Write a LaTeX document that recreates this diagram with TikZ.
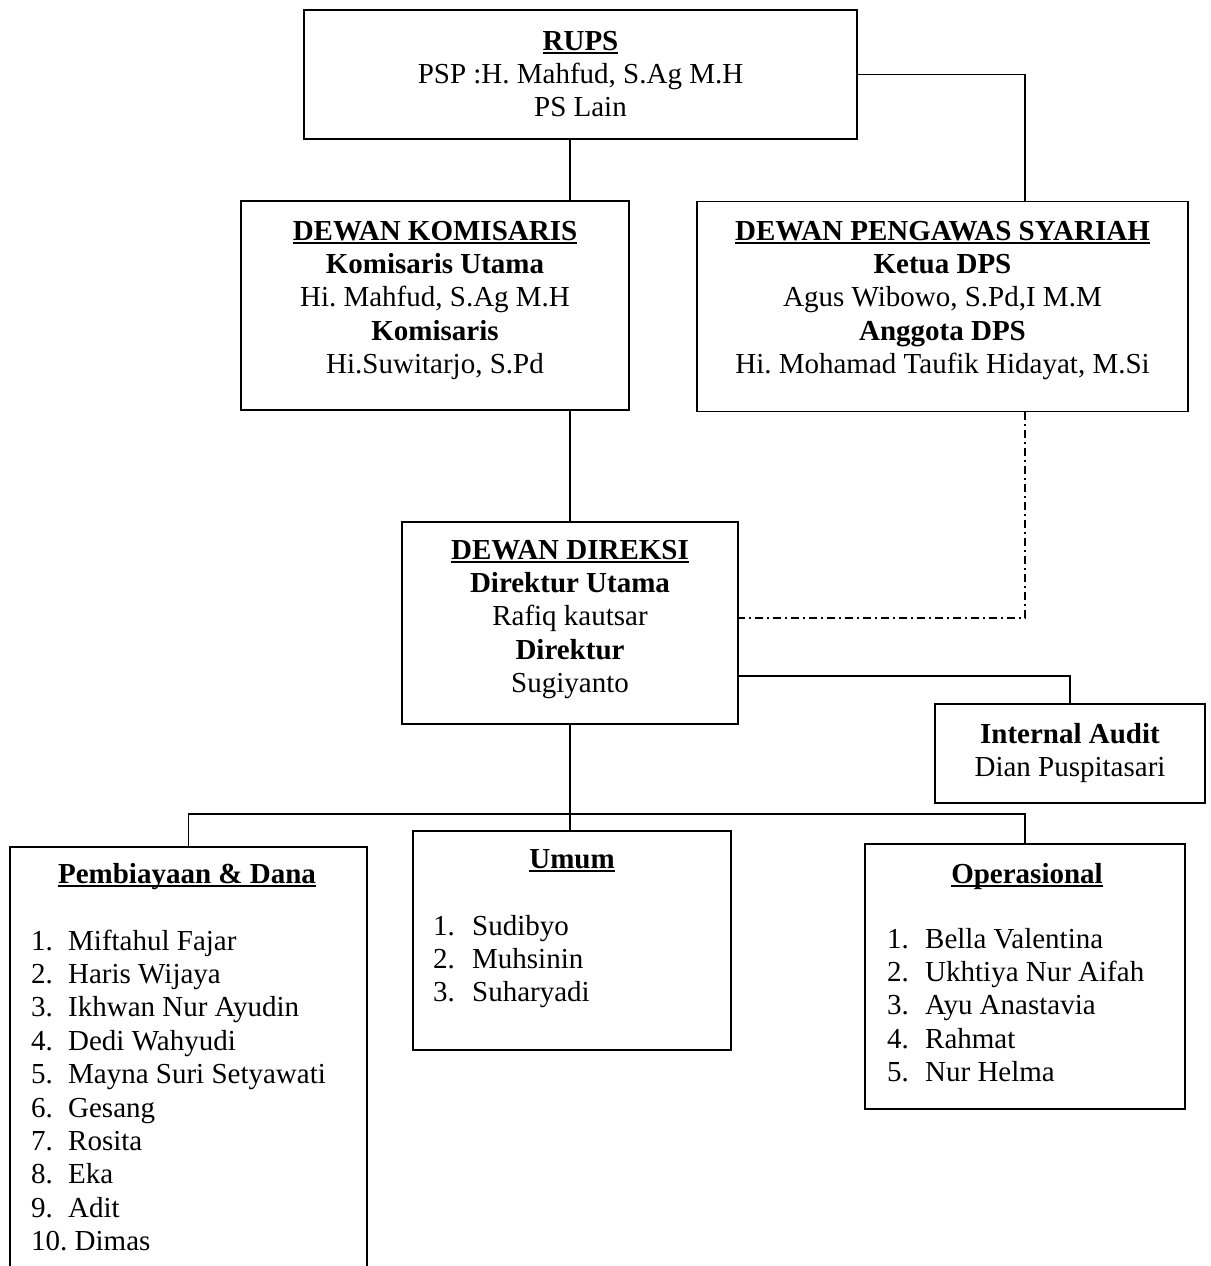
\documentclass[tikz,border=0pt]{standalone}
\usepackage{fontspec}
\setmainfont{Liberation Serif}
\frenchspacing
\newcommand{\garisbawah}[1]{\setbox0\hbox{#1}\rlap{\rule[-3.5pt]{\wd0}{1.8pt}}\box0}
\begin{document}
\begin{tikzpicture}[x=1pt,y=-1pt]
\tikzset{kotak/.style={draw, line width=1.8pt, inner sep=0pt},
  teks/.style={anchor=base, inner sep=0pt, font=\fontsize{29}{33.4}\selectfont},
  daftar/.style={teks, anchor=base west},
  garis/.style={line width=1.2pt},
  garisputus/.style={line width=1.2pt, dash pattern=on 8pt off 4pt on 2pt off 4pt}}
\useasboundingbox (0,0) rectangle (1210,1266);
\clip (0,0) rectangle (1210,1266);
% kotak
\node[kotak, minimum width=553pt, minimum height=129pt] (rups) at (580.5,74.5) {};
\node[kotak, minimum width=388pt, minimum height=209pt] (dk) at (435,305.5) {};
\node[kotak, minimum width=491pt, minimum height=210pt] (dps) at (942.5,306.5) {};
\node[kotak, minimum width=336pt, minimum height=202pt] (dd) at (570,623) {};
\node[kotak, minimum width=270pt, minimum height=99pt] (ia) at (1070,753.5) {};
\node[kotak, minimum width=357pt, minimum height=453pt] (pemb) at (188.5,1073.5) {};
\node[kotak, minimum width=318pt, minimum height=219pt] (umum) at (572,940.5) {};
\node[kotak, minimum width=320pt, minimum height=265pt] (oper) at (1025,976.5) {};
% teks
\node[teks] (rupsteks) at (580.5,50) {\begin{tabular}[t]{@{}c@{}}\garisbawah{\textbf{RUPS}}\\ PSP :H. Mahfud, S.Ag M.H\\ PS Lain\end{tabular}};
\node[teks] (dkteks) at (435,240) {\begin{tabular}[t]{@{}c@{}}\garisbawah{\textbf{DEWAN KOMISARIS}}\\ \textbf{Komisaris Utama}\\ Hi. Mahfud, S.Ag M.H\\ \textbf{Komisaris}\\ Hi.Suwitarjo, S.Pd\end{tabular}};
\node[teks] (dpsteks) at (942.5,240) {\begin{tabular}[t]{@{}c@{}}\garisbawah{\textbf{DEWAN PENGAWAS SYARIAH}}\\ \textbf{Ketua DPS}\\ Agus Wibowo, S.Pd,I M.M\\ \textbf{Anggota DPS}\\ Hi. Mohamad Taufik Hidayat, M.Si\end{tabular}};
\node[teks] (ddteks) at (570,559) {\begin{tabular}[t]{@{}c@{}}\garisbawah{\textbf{DEWAN DIREKSI}}\\ \textbf{Direktur Utama}\\ Rafiq kautsar\\ \textbf{Direktur}\\ Sugiyanto\end{tabular}};
\node[teks] (iateks) at (1070,743) {\begin{tabular}[t]{@{}c@{}}\textbf{Internal Audit}\\ Dian Puspitasari\end{tabular}};
\node[teks] (pembjudul) at (187,883) {\garisbawah{\textbf{Pembiayaan \& Dana}}};
\node[daftar] (pembdaftar) at (31,950) {\begin{tabular}[t]{@{}p{37pt}@{}l@{}}1. & Miftahul Fajar\\ 2. & Haris Wijaya\\ 3. & Ikhwan Nur Ayudin\\ 4. & Dedi Wahyudi\\ 5. & Mayna Suri Setyawati\\ 6. & Gesang\\ 7. & Rosita\\ 8. & Eka\\ 9. & Adit\\ \multicolumn{2}{@{}l@{}}{10. Dimas}\end{tabular}};
\node[teks] (umumjudul) at (572,868) {\garisbawah{\textbf{Umum}}};
\node[daftar] (umumdaftar) at (433,935) {\begin{tabular}[t]{@{}p{39pt}@{}l@{}}1. & Sudibyo\\ 2. & Muhsinin\\ 3. & Suharyadi\end{tabular}};
\node[teks] (operjudul) at (1027,883) {\garisbawah{\textbf{Operasional}}};
\node[daftar] (operdaftar) at (887,948) {\begin{tabular}[t]{@{}p{38pt}@{}l@{}}1. & Bella Valentina\\ 2. & Ukhtiya Nur Aifah\\ 3. & Ayu Anastavia\\ 4. & Rahmat\\ 5. & Nur Helma\end{tabular}};
% garis
\draw[garis] (rups.south -| dd.north) -- (dk.north -| dd.north);
\draw[garis] (dk.south -| dd.north) -- (dd.north);
\draw[garis] (rups.east) -| (dps.north -| oper.north);
\draw[garisputus] (dps.south -| oper.north) |- ([yshift=5pt]dd.east);
\draw[garis] ([yshift=-53pt]dd.east) -| (ia.north);
\draw[garis] (dd.south) -- (dd.south |- umum.north);
\coordinate (cabang) at (570,814);
\draw[garis] (pemb.north) |- (cabang) -| (oper.north);
\end{tikzpicture}
\end{document}
